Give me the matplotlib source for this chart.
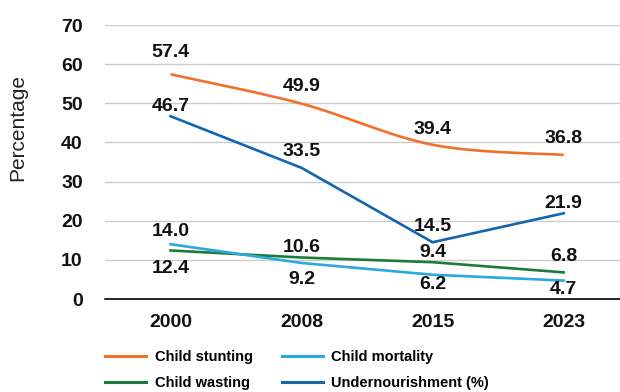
import matplotlib.pyplot as plt
from matplotlib.path import Path
from matplotlib.patches import PathPatch
from matplotlib.lines import Line2D

# Data
years = ['2000', '2008', '2015', '2023']
child_stunting = [57.4, 49.9, 39.4, 36.8]
child_wasting = [12.4, 10.6, 9.4, 6.8]
child_mortality = [14.0, 9.2, 6.2, 4.7]
undernourishment = [46.7, 33.5, 14.5, 21.9]

# Colours
c_stunt = '#F2702C'
c_waste = '#1B7B3B'
c_mort = '#2AA8E0'
c_under = '#1265AE'

# label offsets in pixels (up is positive)
off_stunt = [22, 17, 15, 16]
off_under = [10, 16, 16, 10]
off_waste = [-18, 10, 10, 16]
off_mort = [13, -17, -10, -9]

bold = ['Liberation Sans', 'DejaVu Sans']

fig = plt.figure(figsize=(6.2, 3.92), dpi=100)
ax = fig.add_axes([105 / 620, 1 - 299 / 392, 515 / 620, 274 / 392])

x = list(range(len(years)))


def smooth_path(xs, ys):
    # Catmull-Rom style cubic bezier through the points
    pts = list(zip(xs, ys))
    verts = [pts[0]]
    codes = [Path.MOVETO]
    n = len(pts)
    for i in range(n - 1):
        p0 = pts[i - 1] if i > 0 else pts[i]
        p1 = pts[i]
        p2 = pts[i + 1]
        p3 = pts[i + 2] if i + 2 < n else pts[i + 1]
        c1 = (p1[0] + (p2[0] - p0[0]) / 6, p1[1] + (p2[1] - p0[1]) / 6)
        c2 = (p2[0] - (p3[0] - p1[0]) / 6, p2[1] - (p3[1] - p1[1]) / 6)
        verts += [c1, c2, p2]
        codes += [Path.CURVE4] * 3
    return Path(verts, codes)


ax.add_patch(PathPatch(smooth_path(x, child_stunting), fill=False,
                       edgecolor=c_stunt, linewidth=1.9, zorder=3))
ax.plot(x, undernourishment, color=c_under, linewidth=1.9, zorder=3)
ax.plot(x, child_wasting, color=c_waste, linewidth=1.9, zorder=3)
ax.plot(x, child_mortality, color=c_mort, linewidth=1.9, zorder=3)

# Data labels
for vals, offs in [(child_stunting, off_stunt), (undernourishment, off_under),
                   (child_wasting, off_waste), (child_mortality, off_mort)]:
    for xi, v, o in zip(x, vals, offs):
        ax.annotate(f'{v:.1f}', xy=(xi, v), xytext=(0, o), textcoords='offset pixels',
                    ha='center', va='center', fontsize=14, fontweight='bold',
                    family=bold, color='#111111', zorder=4)

ax.set_xlim(-0.5, 3.43)
ax.set_ylim(0, 70)
ax.set_yticks(range(0, 71, 10))
ax.set_xticks(x)
ax.set_xticklabels(years)
ax.tick_params(length=0)
ax.tick_params(axis='y', pad=16)
ax.tick_params(axis='x', pad=11)
for lab in ax.get_xticklabels() + ax.get_yticklabels():
    lab.set_fontsize(14)
    lab.set_fontweight('bold')
    lab.set_family(bold)
    lab.set_color('#111111')

ax.grid(axis='y', color='#CCCCCC', linewidth=1.0)
ax.set_axisbelow(True)
for side in ['top', 'right', 'left']:
    ax.spines[side].set_visible(False)
ax.spines['bottom'].set_color('black')
ax.spines['bottom'].set_linewidth(1.2)

fig.text(18 / 620, 1 - 128 / 392, 'Percentage', rotation=90, ha='center', va='center',
         fontsize=15, family=['Liberation Sans', 'DejaVu Sans'], color='#222222')

# Legend
handles = [Line2D([], [], color=c_stunt, linewidth=2.2),
           Line2D([], [], color=c_waste, linewidth=2.2),
           Line2D([], [], color=c_mort, linewidth=2.2),
           Line2D([], [], color=c_under, linewidth=2.2)]
labels = ['Child stunting', 'Child wasting', 'Child mortality', 'Undernourishment (%)']
fig.legend(handles, labels, ncol=2, loc='upper left', bbox_to_anchor=(105 / 620, 1 - 350 / 392),
           frameon=False, borderpad=0, borderaxespad=0, handlelength=2.8, handletextpad=0.6,
           columnspacing=2.0, labelspacing=0.85,
           prop={'family': bold, 'weight': 'bold', 'size': 10.5})

fig.savefig('out.png', dpi=100)
